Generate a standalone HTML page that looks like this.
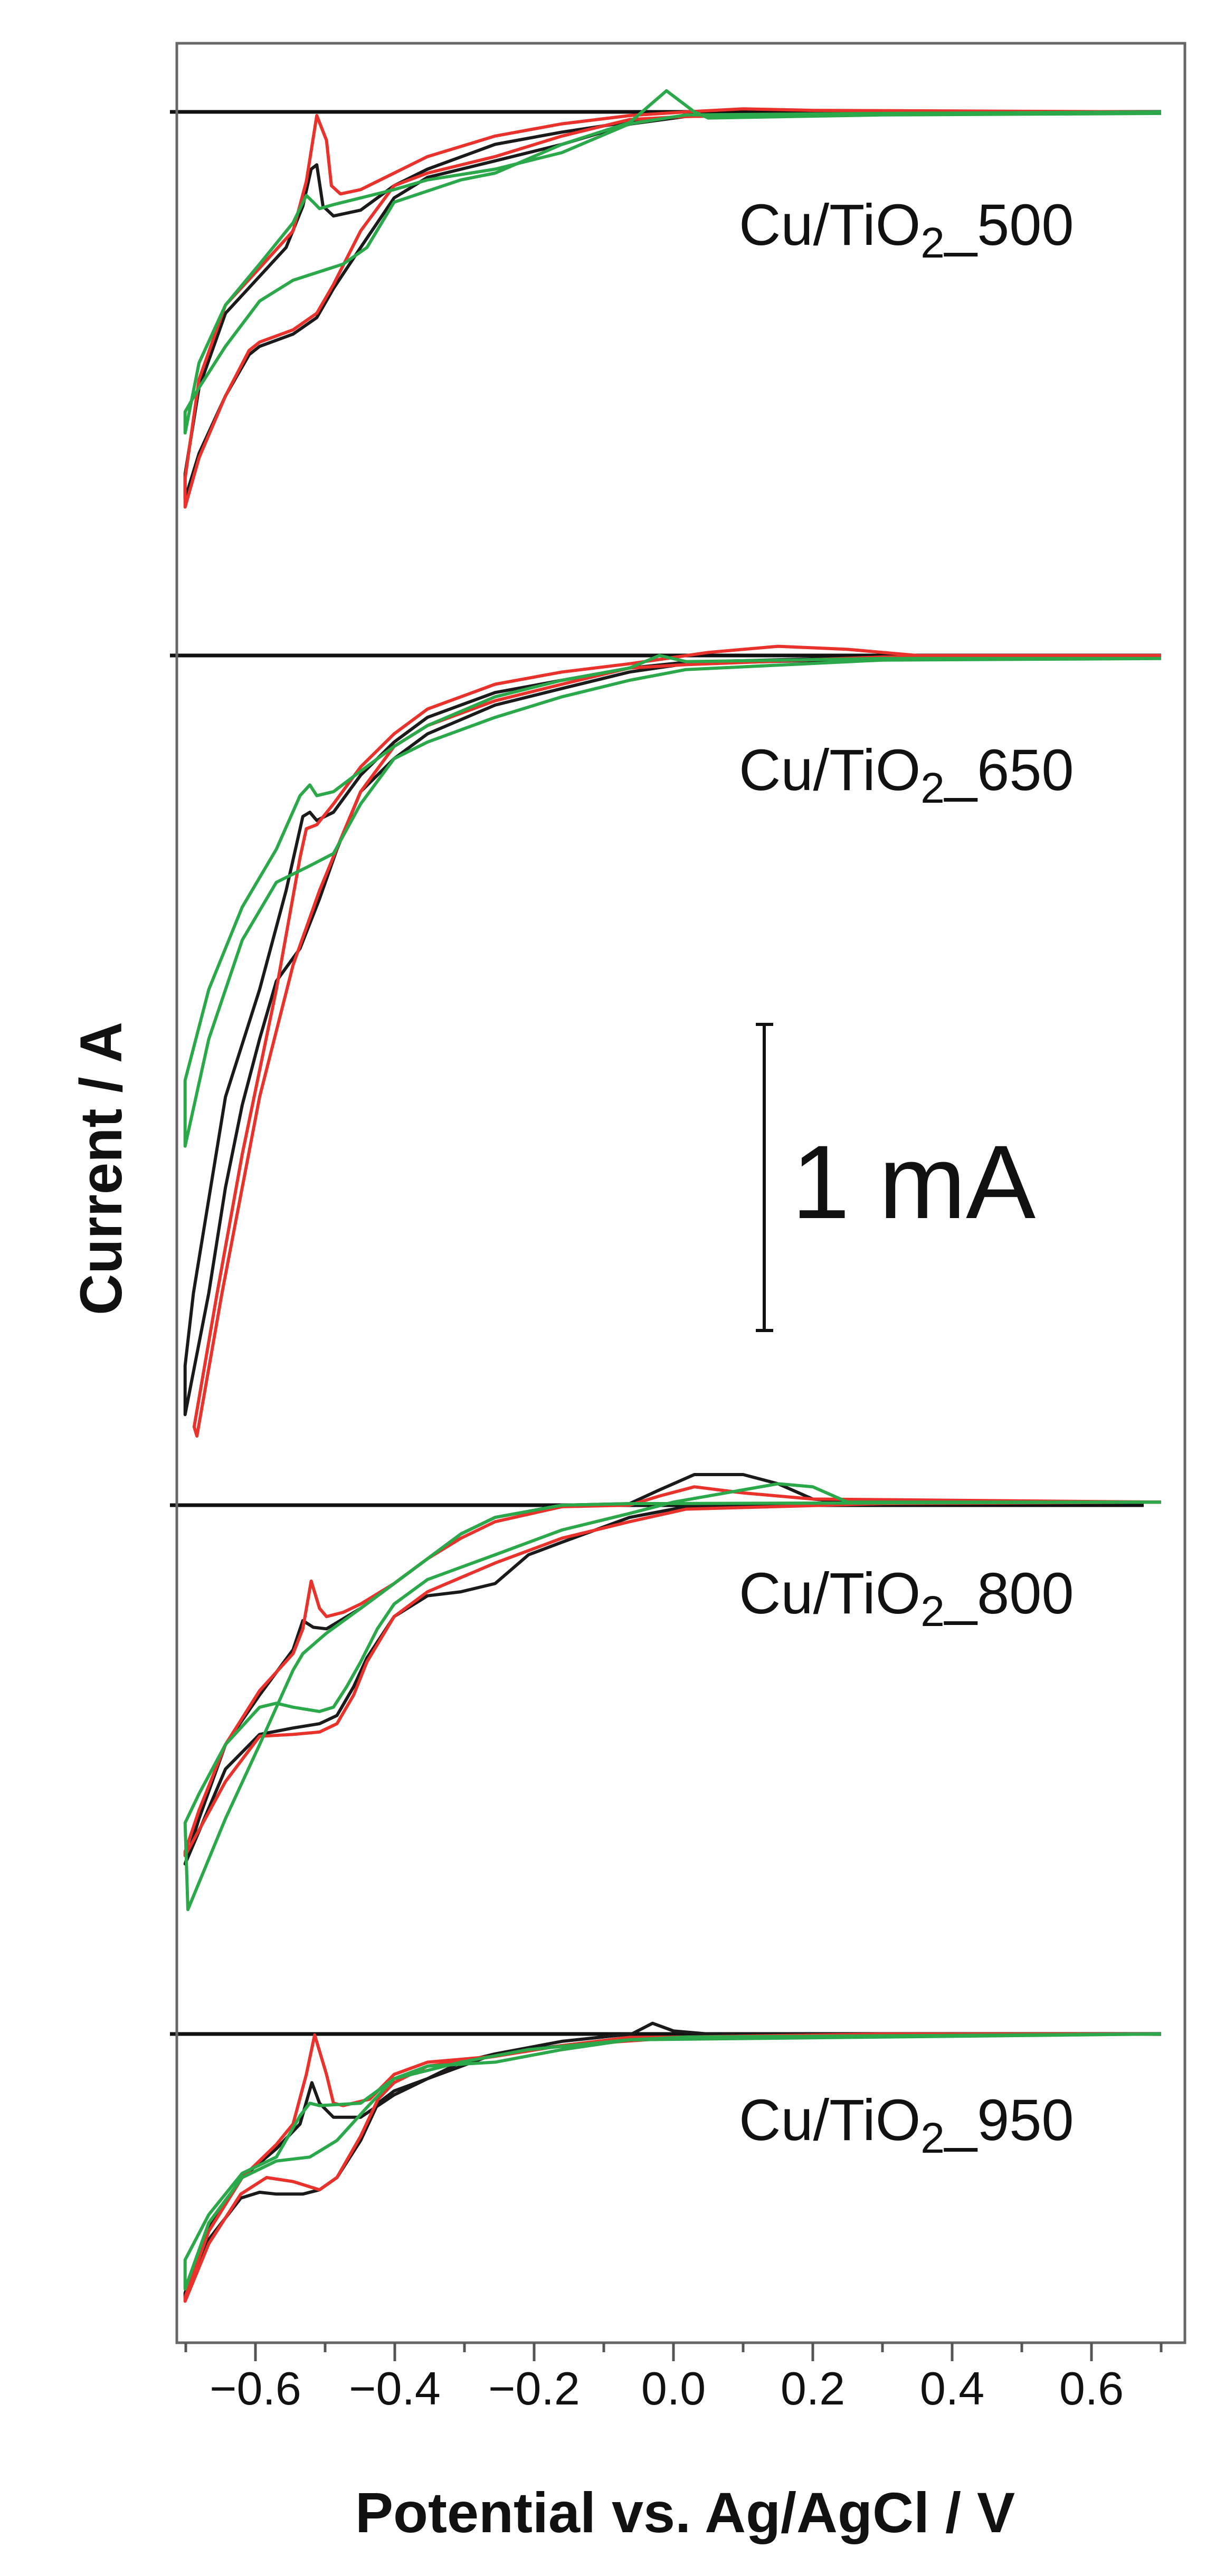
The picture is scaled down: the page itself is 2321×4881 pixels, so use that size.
<!DOCTYPE html>
<html><head><meta charset="utf-8"><style>
html,body{margin:0;padding:0;background:#fff}
svg{display:block}
text{font-family:"Liberation Sans",Arial,sans-serif;fill:#111}
</style></head><body>
<svg id="chart" width="2321" height="4881" viewBox="0 0 2321 4881" xmlns="http://www.w3.org/2000/svg">
<rect x="0" y="0" width="2321" height="4881" fill="#fff"/>
<g id="marks"></g>
<rect x="335" y="82" width="1910" height="4357" fill="none" stroke="#666" stroke-width="5"/>
<g id="axis"></g>
<g stroke="#111" stroke-width="6">
<line x1="1448" y1="1941" x2="1448" y2="2521"/>
<line x1="1432" y1="1941" x2="1465" y2="1941"/>
<line x1="1432" y1="2521" x2="1465" y2="2521"/>
</g>
<text x="1500" y="2308" font-size="198">1 mA</text>
<text x="1298" y="4798" font-size="108" font-weight="bold" text-anchor="middle" textLength="1250" lengthAdjust="spacingAndGlyphs">Potential vs. Ag/AgCl / V</text>
<text transform="translate(230,2214) rotate(-90)" x="0" y="0" font-size="112" font-weight="bold" text-anchor="middle" textLength="556" lengthAdjust="spacingAndGlyphs">Current / A</text>
</svg>
<script>
// x-axis tick values
const xTicks = [-0.7,-0.6,-0.5,-0.4,-0.3,-0.2,-0.1,0.0,0.1,0.2,0.3,0.4,0.5,0.6,0.7];
const xTickLabels = ["\u22120.6","\u22120.4","\u22120.2","0.0","0.2","0.4","0.6"];
const xTickLabelValues = [-0.6,-0.4,-0.2,0.0,0.2,0.4,0.6];
// panels
const panelNames = ["500","650","800","950"];
// Cu/TiO2_500 (V, mA)
const v500k = [0.70,0.30,0.018,-0.063,-0.160,-0.256,-0.353,-0.401,-0.449,-0.488,-0.512,-0.546,-0.594,-0.609,-0.643,-0.681,-0.701,-0.701,-0.681,-0.643,-0.594,-0.556,-0.532,-0.520,-0.512,-0.503,-0.488,-0.449,-0.401,-0.353,-0.256,-0.160,-0.063,0.018,0.30,0.70];
const i500k = [0,-0.005,-0.015,-0.04,-0.106,-0.160,-0.214,-0.281,-0.443,-0.577,-0.672,-0.726,-0.766,-0.793,-0.928,-1.116,-1.264,-1.183,-0.901,-0.658,-0.537,-0.443,-0.308,-0.187,-0.173,-0.308,-0.340,-0.321,-0.241,-0.187,-0.106,-0.066,-0.033,-0.012,0,0];
const v500r = [0.70,0.30,0.018,-0.063,-0.160,-0.256,-0.353,-0.401,-0.449,-0.488,-0.512,-0.546,-0.594,-0.609,-0.643,-0.681,-0.701,-0.701,-0.681,-0.643,-0.594,-0.546,-0.527,-0.512,-0.498,-0.491,-0.478,-0.449,-0.401,-0.353,-0.256,-0.160,-0.063,0.018,0.10,0.20,0.70];
const i500r = [0,-0.005,-0.015,-0.025,-0.079,-0.146,-0.200,-0.241,-0.389,-0.564,-0.658,-0.712,-0.752,-0.779,-0.928,-1.130,-1.291,-1.197,-0.874,-0.631,-0.510,-0.389,-0.227,-0.012,-0.093,-0.241,-0.268,-0.254,-0.200,-0.146,-0.079,-0.039,-0.012,0.0,0.01,0.005,0];
const v500g = [0.70,0.30,0.05,0.03,-0.01,-0.04,-0.063,-0.160,-0.256,-0.305,-0.401,-0.440,-0.474,-0.546,-0.594,-0.643,-0.681,-0.701,-0.701,-0.681,-0.643,-0.594,-0.546,-0.527,-0.517,-0.508,-0.488,-0.449,-0.401,-0.353,-0.256,-0.160,-0.063,0.018,0.30,0.70];
const i500g = [-0.005,-0.01,-0.02,0.0,0.069,0.01,-0.035,-0.106,-0.200,-0.222,-0.295,-0.443,-0.497,-0.550,-0.618,-0.766,-0.901,-0.98,-1.049,-0.820,-0.631,-0.497,-0.362,-0.273,-0.295,-0.316,-0.303,-0.281,-0.254,-0.222,-0.187,-0.133,-0.039,-0.01,-0.005,0];
// Cu/TiO2_650
const v650k = [0.70,0.30,0.018,-0.063,-0.160,-0.256,-0.353,-0.401,-0.449,-0.483,-0.508,-0.536,-0.570,-0.594,-0.619,-0.643,-0.667,-0.701,-0.701,-0.689,-0.643,-0.594,-0.556,-0.532,-0.522,-0.512,-0.488,-0.449,-0.401,-0.353,-0.256,-0.160,-0.063,0.018,0.30,0.70];
const i650k = [0,-0.01,-0.027,-0.054,-0.108,-0.162,-0.256,-0.337,-0.445,-0.633,-0.795,-0.957,-1.064,-1.253,-1.469,-1.738,-2.083,-2.48,-2.32,-2.083,-1.442,-1.091,-0.768,-0.526,-0.512,-0.539,-0.512,-0.391,-0.283,-0.202,-0.121,-0.081,-0.041,-0.022,-0.005,0];
const v650r = [0.70,0.30,0.018,-0.063,-0.160,-0.256,-0.353,-0.401,-0.449,-0.474,-0.508,-0.546,-0.594,-0.648,-0.684,-0.688,-0.655,-0.619,-0.570,-0.536,-0.527,-0.512,-0.488,-0.449,-0.401,-0.353,-0.256,-0.160,-0.063,0.05,0.15,0.25,0.35,0.70];
const i650r = [0,-0.005,-0.03,-0.041,-0.094,-0.148,-0.229,-0.297,-0.445,-0.580,-0.768,-1.011,-1.442,-2.083,-2.55,-2.52,-2.083,-1.630,-1.091,-0.660,-0.566,-0.553,-0.485,-0.364,-0.256,-0.175,-0.094,-0.054,-0.027,0.01,0.03,0.02,0.0,0];
const v650g = [0.70,0.30,0.018,-0.063,-0.160,-0.256,-0.353,-0.401,-0.449,-0.488,-0.522,-0.570,-0.619,-0.667,-0.701,-0.701,-0.667,-0.619,-0.570,-0.536,-0.522,-0.512,-0.488,-0.449,-0.401,-0.353,-0.256,-0.160,-0.063,-0.02,0.018,0.30,0.70];
const i650g = [-0.01,-0.015,-0.046,-0.081,-0.135,-0.202,-0.283,-0.337,-0.485,-0.647,-0.687,-0.741,-0.930,-1.253,-1.603,-1.388,-1.091,-0.822,-0.633,-0.458,-0.423,-0.458,-0.445,-0.378,-0.297,-0.229,-0.135,-0.081,-0.041,0.0,-0.02,-0.01,-0.01];
// Cu/TiO2_800
const v800k = [0.70,0.30,0.018,-0.063,-0.160,-0.208,-0.256,-0.305,-0.353,-0.401,-0.440,-0.459,-0.483,-0.508,-0.546,-0.594,-0.643,-0.701,-0.681,-0.643,-0.594,-0.546,-0.532,-0.517,-0.498,-0.449,-0.401,-0.353,-0.305,-0.256,-0.160,-0.063,-0.02,0.03,0.10,0.15,0.20,0.25,0.70];
const i800k = [0.01,0.005,-0.005,-0.040,-0.121,-0.162,-0.256,-0.283,-0.296,-0.364,-0.499,-0.593,-0.687,-0.714,-0.728,-0.749,-0.862,-1.172,-1.024,-0.782,-0.620,-0.472,-0.377,-0.399,-0.404,-0.337,-0.256,-0.175,-0.094,-0.040,0.0,0.005,0.05,0.10,0.10,0.07,0.02,0.01,0.01];
const v800r = [0.70,0.30,0.018,-0.063,-0.160,-0.256,-0.353,-0.401,-0.440,-0.459,-0.483,-0.508,-0.546,-0.594,-0.643,-0.701,-0.701,-0.681,-0.643,-0.594,-0.546,-0.532,-0.520,-0.508,-0.498,-0.474,-0.449,-0.401,-0.353,-0.305,-0.256,-0.160,-0.063,-0.02,0.03,0.10,0.20,0.70];
const i800r = [0.01,0.005,-0.013,-0.054,-0.108,-0.189,-0.283,-0.364,-0.512,-0.620,-0.714,-0.741,-0.749,-0.755,-0.903,-1.145,-1.132,-0.997,-0.782,-0.606,-0.485,-0.404,-0.248,-0.337,-0.364,-0.350,-0.323,-0.256,-0.175,-0.108,-0.054,-0.005,0.0,0.03,0.06,0.04,0.02,0.01];
const v800g = [0.70,0.25,0.20,0.15,0.10,0.0,-0.063,-0.160,-0.256,-0.353,-0.401,-0.425,-0.449,-0.469,-0.488,-0.508,-0.546,-0.570,-0.594,-0.643,-0.681,-0.701,-0.697,-0.643,-0.594,-0.546,-0.532,-0.498,-0.449,-0.401,-0.353,-0.305,-0.256,-0.160,-0.063,0.70];
const i800g = [0.01,0.01,0.06,0.07,0.05,0.01,-0.027,-0.081,-0.162,-0.243,-0.323,-0.404,-0.512,-0.593,-0.660,-0.674,-0.660,-0.647,-0.660,-0.782,-0.943,-1.038,-1.321,-1.024,-0.782,-0.539,-0.485,-0.418,-0.337,-0.256,-0.175,-0.094,-0.040,0.0,0.005,0.01];
// Cu/TiO2_950
const v950k = [0.70,0.30,0.018,-0.063,-0.160,-0.256,-0.353,-0.401,-0.424,-0.449,-0.483,-0.508,-0.532,-0.570,-0.594,-0.621,-0.667,-0.701,-0.701,-0.667,-0.619,-0.570,-0.536,-0.519,-0.508,-0.488,-0.449,-0.401,-0.353,-0.305,-0.256,-0.160,-0.06,-0.03,0.0,0.05,0.70];
const i950k = [0,-0.003,-0.011,-0.011,-0.038,-0.065,-0.146,-0.186,-0.226,-0.348,-0.469,-0.509,-0.523,-0.523,-0.517,-0.536,-0.671,-0.860,-0.846,-0.631,-0.469,-0.375,-0.294,-0.159,-0.226,-0.272,-0.272,-0.199,-0.146,-0.092,-0.065,-0.024,0.0,0.035,0.01,0.0,0];
const v950r = [0.70,0.30,0.018,-0.160,-0.256,-0.353,-0.401,-0.424,-0.449,-0.483,-0.508,-0.546,-0.584,-0.621,-0.667,-0.701,-0.701,-0.667,-0.619,-0.570,-0.546,-0.527,-0.515,-0.498,-0.488,-0.474,-0.436,-0.401,-0.353,-0.256,-0.160,-0.063,0.70];
const i950r = [0,0,-0.01,-0.038,-0.073,-0.105,-0.159,-0.213,-0.334,-0.469,-0.509,-0.482,-0.469,-0.523,-0.685,-0.873,-0.860,-0.644,-0.469,-0.361,-0.294,-0.132,-0.003,-0.132,-0.226,-0.234,-0.213,-0.132,-0.092,-0.073,-0.038,-0.011,0];
const v950g = [0.70,0.018,-0.063,-0.208,-0.305,-0.401,-0.440,-0.483,-0.522,-0.570,-0.619,-0.667,-0.701,-0.701,-0.667,-0.619,-0.570,-0.536,-0.522,-0.508,-0.449,-0.401,-0.353,-0.256,-0.160,-0.063,0.70];
const i950g = [0,-0.01,-0.019,-0.051,-0.092,-0.146,-0.240,-0.348,-0.402,-0.415,-0.469,-0.617,-0.833,-0.738,-0.590,-0.455,-0.402,-0.267,-0.226,-0.234,-0.226,-0.146,-0.105,-0.092,-0.051,-0.019,0];

const baselineY = [212,1242,2852,3854];
const labelY = [464,1497,3057,4055];
const PX_PER_V = 1320, X0 = 1276, PX_PER_MA = 580;
function xs(v){return X0 + v*PX_PER_V;}
function ys(i,p){return baselineY[p] - i*PX_PER_MA;}
const NS="http://www.w3.org/2000/svg";
const marks=document.getElementById('marks');
const axis=document.getElementById('axis');
const baselineEnds=[2200,2200,2167,2200];
const series=[
 [[v500k,i500k,'#1a1a1a','black'],[v500r,i500r,'#e8322b','red'],[v500g,i500g,'#2aa84a','green']],
 [[v650k,i650k,'#1a1a1a','black'],[v650r,i650r,'#e8322b','red'],[v650g,i650g,'#2aa84a','green']],
 [[v800k,i800k,'#1a1a1a','black'],[v800r,i800r,'#e8322b','red'],[v800g,i800g,'#2aa84a','green']],
 [[v950k,i950k,'#1a1a1a','black'],[v950r,i950r,'#e8322b','red'],[v950g,i950g,'#2aa84a','green']]
];
for(let p=0;p<4;p++){
  const bl=document.createElementNS(NS,'line');
  
  
  bl.setAttribute('x1',322);bl.setAttribute('x2',baselineEnds[p]);
  bl.setAttribute('y1',baselineY[p]);bl.setAttribute('y2',baselineY[p]);
  bl.setAttribute('stroke','#111');bl.setAttribute('stroke-width','7');
  marks.appendChild(bl);
  for(const s of series[p]){
    const pl=document.createElementNS(NS,'polyline');
    
    
    pl.setAttribute('points',s[0].map((v,k)=>xs(v).toFixed(1)+','+ys(s[1][k],p).toFixed(1)).join(' '));
    pl.setAttribute('fill','none');pl.setAttribute('stroke',s[2]);
    pl.setAttribute('stroke-width','6');pl.setAttribute('stroke-linejoin','round');
    marks.appendChild(pl);
  }
  const t=document.createElementNS(NS,'text');
  
  
  t.setAttribute('x',1400);t.setAttribute('y',labelY[p]);t.setAttribute('font-size','110');
  t.appendChild(document.createTextNode('Cu/TiO'));
  const sub=document.createElementNS(NS,'tspan');
  sub.setAttribute('font-size','82');sub.setAttribute('dy','24');sub.textContent='2';
  t.appendChild(sub);
  const rest=document.createElementNS(NS,'tspan');
  rest.setAttribute('dy','-24');rest.textContent='_'+panelNames[p];
  t.appendChild(rest);
  document.getElementById('chart').appendChild(t);
}
for(const v of xTicks){
  const major=Math.abs(Math.round(v*10))%2===0;
  const tk=document.createElementNS(NS,'line');
  
  
  tk.setAttribute('x1',xs(v));tk.setAttribute('x2',xs(v));
  tk.setAttribute('y1',4439);tk.setAttribute('y2',4439+(major?35:18));
  tk.setAttribute('stroke','#555');tk.setAttribute('stroke-width','5');
  axis.appendChild(tk);
}
xTickLabelValues.forEach((v,k)=>{
  const t=document.createElementNS(NS,'text');
  
  
  t.setAttribute('x',xs(v));t.setAttribute('y',4556);
  t.setAttribute('font-size','88');t.setAttribute('text-anchor','middle');
  t.textContent=xTickLabels[k];
  axis.appendChild(t);
});
</script>
</body></html>
